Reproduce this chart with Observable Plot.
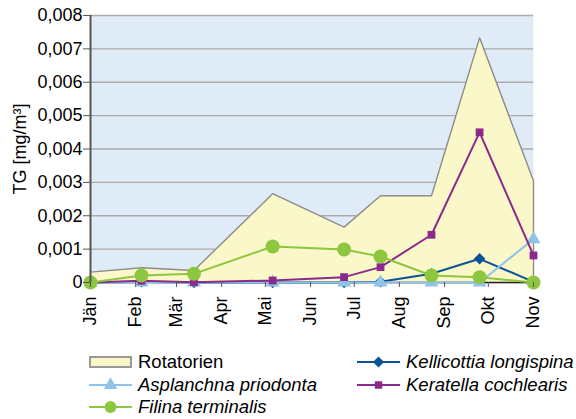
<!DOCTYPE html>
<html>
<head>
<meta charset="utf-8">
<script src="https://cdn.jsdelivr.net/npm/d3@7"></script>
<script src="https://cdn.jsdelivr.net/npm/@observablehq/plot@0.6"></script>
<style>
  html, body { margin: 0; padding: 0; background: #fff; }
  #wrap { position: relative; width: 576px; height: 419px; font-family: "Liberation Sans", Arial, sans-serif; }
  .leg { position: absolute; display: flex; align-items: center; font-size: 18.5px; color: #000; white-space: nowrap; height: 22px; }
  .leg svg { margin-right: 5px; }
  .it { font-style: italic; }
</style>
</head>
<body>
<div id="wrap"></div>
<script>
// ---- data ----
const sampleDates = ["2010-01-01","2010-02-05","2010-03-13","2010-05-06","2010-06-24","2010-07-19","2010-08-23","2010-09-25","2010-11-01"];
const rotatorien  = [0.00031, 0.00044, 0.00036, 0.00266, 0.00166, 0.00260, 0.00260, 0.00733, 0.00305];
const kellicottia = [0.00000, 0.00002, 0.00000, 0.00000, 0.00000, 0.00002, 0.00026, 0.00071, 0.00002];
const asplanchna  = [0.00000, 0.00000, 0.00000, 0.00000, 0.00000, 0.00000, 0.00000, 0.00000, 0.00130];
const keratella   = [0.00000, 0.00005, 0.00001, 0.00006, 0.00016, 0.00046, 0.00143, 0.00450, 0.00081];
const filinia     = [0.00000, 0.00021, 0.00026, 0.00108, 0.00099, 0.00078, 0.00021, 0.00016, 0.00000];
const monthTicks  = ["2010-01-01","2010-02-01","2010-03-01","2010-04-01","2010-05-01","2010-06-01","2010-07-01","2010-08-01","2010-09-01","2010-10-01","2010-11-01"];
const monthLabels = ["Jän","Feb","Mär","Apr","Mai","Jun","Jul","Aug","Sep","Okt","Nov"];
const yTicks      = [0, 0.001, 0.002, 0.003, 0.004, 0.005, 0.006, 0.007, 0.008];
const yLabel      = "TG [mg/m³]";

const series = [
  {name: "Kellicottia longispina", values: kellicottia, color: "#0d5394", symbol: "diamond2", r: 5.2},
  {name: "Asplanchna priodonta",   values: asplanchna,  color: "#8fc3ea", symbol: "triangle", r: 5.2},
  {name: "Keratella cochlearis",   values: keratella,   color: "#8c2a8c", symbol: "square",   r: 4.4},
  {name: "Filina terminalis",      values: filinia,     color: "#8dc63f", symbol: "circle",   r: 7}
];

const dates = sampleDates.map(d => new Date(d));
const tickDates = monthTicks.map(d => new Date(d));
const areaData = dates.map((d, i) => ({date: d, value: rotatorien[i]}));

const marks = [
  Plot.frame({fill: "#dfebf7", stroke: "none"}),
  Plot.gridY(yTicks, {stroke: "#acacac", strokeOpacity: 1, strokeWidth: 1.3}),
  Plot.areaY(areaData, {x: "date", y: "value", fill: "#faf7c8", fillOpacity: 1}),
  Plot.lineY(areaData, {x: "date", y: "value", stroke: "#8c8c8c", strokeWidth: 1.4}),
  Plot.ruleX([tickDates[tickDates.length - 1]], {y1: 0, y2: rotatorien[rotatorien.length - 1], stroke: "#8c8c8c", strokeWidth: 1.4}),
  Plot.ruleY([0], {stroke: "#222", strokeWidth: 1.5})
];
for (const s of series) {
  const data = dates.map((d, i) => ({date: d, value: s.values[i]}));
  marks.push(Plot.lineY(data, {x: "date", y: "value", stroke: s.color, strokeWidth: 2}));
  marks.push(Plot.dot(data, {x: "date", y: "value", symbol: () => s.symbol, r: s.r, fill: s.color, stroke: "none"}));
}
marks.push(Plot.ruleX([tickDates[0]], {y1: 0, y2: 0.008, stroke: "#555", strokeWidth: 2}));
marks.push(Plot.axisY(yTicks, {
  tickFormat: d => d === 0 ? "0" : d.toFixed(3).replace(".", ","),
  tickSize: 7, tickPadding: 1, fontSize: 18, label: null, stroke: "#555"
}));
marks.push(Plot.axisX(tickDates, {
  tickFormat: (d, i) => monthLabels[i], tickRotate: -90, tickSize: 5, tickPadding: 9,
  fontSize: 18, label: null, stroke: "#555"
}));
marks.push(Plot.text([yLabel], {frameAnchor: "left", textAnchor: "middle", dx: -70, rotate: -90, fontSize: 18, text: d => d}));

const chart = Plot.plot({
  width: 576, height: 340,
  marginLeft: 90, marginRight: 43, marginTop: 15, marginBottom: 58,
  style: {fontFamily: "'Liberation Sans', Arial, sans-serif", color: "#000", background: "#fff", overflow: "visible"},
  x: {type: "utc", domain: [tickDates[0], tickDates[tickDates.length - 1]]},
  y: {domain: [0, 0.008]},
  symbol: {type: "identity"},
  marks
});
const wrap = document.getElementById("wrap");
wrap.appendChild(chart);

// ---- legend ----
function swatch(kind, color, symbol) {
  const ns = "http://www.w3.org/2000/svg";
  const svg = document.createElementNS(ns, "svg");
  svg.setAttribute("width", 44); svg.setAttribute("height", 16);
  if (kind === "area") {
    const r = document.createElementNS(ns, "rect");
    r.setAttribute("x", 1); r.setAttribute("y", 3); r.setAttribute("width", 41); r.setAttribute("height", 10);
    r.setAttribute("fill", "#faf7c8"); r.setAttribute("stroke", "#999"); r.setAttribute("stroke-width", 2);
    svg.appendChild(r);
  } else {
    const l = document.createElementNS(ns, "line");
    l.setAttribute("x1", 0); l.setAttribute("x2", 43); l.setAttribute("y1", 8); l.setAttribute("y2", 8);
    l.setAttribute("stroke", color); l.setAttribute("stroke-width", 2);
    svg.appendChild(l);
    const p = document.createElementNS(ns, "path");
    const symMap = {circle: d3.symbolCircle, square: d3.symbolSquare, triangle: d3.symbolTriangle, diamond2: d3.symbolDiamond2};
    const size = symbol === "circle" ? 110 : symbol === "square" ? 55 : 80;
    p.setAttribute("d", d3.symbol(symMap[symbol], size)());
    p.setAttribute("transform", "translate(21.5,8)");
    p.setAttribute("fill", color);
    svg.appendChild(p);
  }
  return svg;
}
const legendItems = [
  {label: "Rotatorien", kind: "area", x: 89, y: 351, italic: false},
  {label: series[0].name, kind: "line", color: series[0].color, symbol: series[0].symbol, x: 357, y: 351, italic: true},
  {label: series[1].name, kind: "line", color: series[1].color, symbol: series[1].symbol, x: 89, y: 374, italic: true},
  {label: series[2].name, kind: "line", color: series[2].color, symbol: series[2].symbol, x: 357, y: 374, italic: true},
  {label: series[3].name, kind: "line", color: series[3].color, symbol: series[3].symbol, x: 89, y: 396, italic: true}
];
for (const it of legendItems) {
  const div = document.createElement("div");
  div.className = "leg";
  div.style.left = it.x + "px"; div.style.top = it.y + "px";
  div.appendChild(swatch(it.kind, it.color, it.symbol));
  const span = document.createElement("span");
  span.textContent = it.label;
  if (it.italic) span.className = "it";
  div.appendChild(span);
  wrap.appendChild(div);
}
</script>
</body>
</html>
